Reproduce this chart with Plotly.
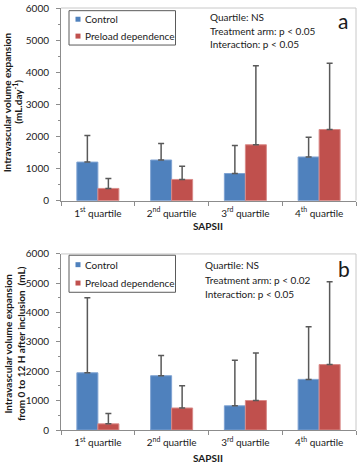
import plotly.graph_objects as go
from plotly.subplots import make_subplots

categories = ["1<sup>st</sup> quartile", "2<sup>nd</sup> quartile",
              "3<sup>rd</sup> quartile", "4<sup>th</sup> quartile"]

# Panel a: daily volume expansion (mL/day), mean and SD (upper whisker)
a_control_mean = [1200, 1265, 845, 1360]
a_control_sd = [830, 515, 875, 615]
a_preload_mean = [380, 660, 1740, 2215]
a_preload_sd = [310, 410, 2465, 2065]

# Panel b: volume expansion from 0 to 12 H (mL)
b_control_mean = [1950, 1850, 825, 1725]
b_control_sd = [2560, 685, 1550, 1795]
b_preload_mean = [210, 750, 1005, 2230]
b_preload_sd = [355, 760, 1615, 2820]

series_names = ["Control", "Preload dependence"]
y_ticks = [0, 1000, 2000, 3000, 4000, 5000, 6000]

BLUE = "#4F81BD"
RED = "#C0504D"
BLUE_EDGE = "#7FA3D3"
RED_EDGE = "#D98A88"
AXIS = "#8C8C8C"
BORDER = "#C8C8C8"
ERR = "#595959"
FONT = "Lato"
TXT = "#1a1a1a"
FS = 10

W, H = 358, 466
ML, MR, MT, MB = 61, 2, 5, 36
PW = W - ML - MR
PH = H - MT - MB


def px_x(px):
    return (px - ML) / PW


def px_y(py):
    return (H - MB - py) / PH


top_dom = [px_y(199), 1.0]
bot_dom = [0.0, px_y(252.7)]

fig = make_subplots(rows=2, cols=1)


def add_bars(row, cmean, csd, pmean, psd):
    for name, mean, sd, col, edge in [
        (series_names[0], cmean, csd, BLUE, BLUE_EDGE),
        (series_names[1], pmean, psd, RED, RED_EDGE),
    ]:
        fig.add_trace(go.Bar(
            x=categories, y=mean, name=name, showlegend=False,
            marker=dict(color=col, line=dict(color=edge, width=1)),
            error_y=dict(type="data", array=sd, symmetric=False,
                         arrayminus=[0] * len(sd), color=ERR,
                         thickness=1.5, width=3),
        ), row=row, col=1)


add_bars(1, a_control_mean, a_control_sd, a_preload_mean, a_preload_sd)
add_bars(2, b_control_mean, b_control_sd, b_preload_mean, b_preload_sd)

xaxis_common = dict(
    type="category", range=[-0.5, 3.5], showline=True, linecolor=AXIS,
    linewidth=1, ticks="outside", tickson="boundaries", ticklen=4,
    tickcolor=AXIS, tickfont=dict(family=FONT, size=FS, color=TXT),
    showgrid=False, zeroline=False, ticklabelstandoff=3,
)
yaxis_common = dict(
    range=[0, 6000], tickvals=y_ticks, showline=True, linecolor=AXIS,
    linewidth=1, ticks="outside", ticklen=4, tickcolor=AXIS,
    tickfont=dict(family=FONT, size=FS, color=TXT), showgrid=False,
    zeroline=False, ticklabelstandoff=5,
    minor=dict(dtick=500, ticks="outside", ticklen=2, tickcolor=AXIS),
)

fig.update_layout(
    width=W, height=H, margin=dict(l=ML, r=MR, t=MT, b=MB),
    paper_bgcolor="white", plot_bgcolor="white",
    barmode="group", bargap=0.43, bargroupgap=0,
    xaxis=dict(domain=[0, 1], anchor="y", **xaxis_common),
    yaxis=dict(domain=top_dom, anchor="x", **yaxis_common),
    xaxis2=dict(domain=[0, 1], anchor="y2", **xaxis_common),
    yaxis2=dict(domain=bot_dom, anchor="x2", **yaxis_common),
    font=dict(family=FONT, size=FS, color=TXT),
)

shapes = []
annotations = []

# plot-area border (top & right)
for yd in (top_dom, bot_dom):
    shapes.append(dict(type="line", xref="paper", yref="paper",
                       x0=0, x1=1, y0=yd[1], y1=yd[1],
                       line=dict(color=BORDER, width=1), layer="below"))
    shapes.append(dict(type="line", xref="paper", yref="paper",
                       x0=1, x1=1, y0=yd[0], y1=yd[1],
                       line=dict(color=BORDER, width=1), layer="below"))


def legend_box(x0, y0, x1, y1, item_ys):
    shapes.append(dict(type="rect", xref="paper", yref="paper",
                       x0=px_x(x0), x1=px_x(x1), y0=px_y(y1), y1=px_y(y0),
                       line=dict(color="#5a5a5a", width=1),
                       fillcolor="white", layer="above"))
    for name, yy, col in zip(series_names, item_ys, [BLUE, RED]):
        shapes.append(dict(type="rect", xref="paper", yref="paper",
                           x0=px_x(75.5), x1=px_x(80.5),
                           y0=px_y(yy + 2.5), y1=px_y(yy - 2.5),
                           line=dict(width=0), fillcolor=col, layer="above"))
        annotations.append(dict(text=name, xref="paper", yref="paper",
                                x=px_x(82.5), y=px_y(yy), xanchor="left",
                                yanchor="middle", showarrow=False,
                                font=dict(family=FONT, size=FS, color=TXT)))


legend_box(69, 7.7, 175.5, 42.3, [16.3, 33.3])
legend_box(69, 254, 175.5, 291.3, [263.5, 282])


def stats_text(x, ys, lines):
    for yy, t in zip(ys, lines):
        annotations.append(dict(text=t, xref="paper", yref="paper",
                                x=px_x(x), y=px_y(yy), xanchor="left",
                                yanchor="middle", showarrow=False,
                                font=dict(family=FONT, size=FS, color=TXT)))


stats_text(207.5, [14.3, 27.7, 41.7],
           ["Quartile: NS", "Treatment arm: p < 0.05", "Interaction: p < 0.05"])
stats_text(202.5, [264.3, 278.6, 293.3],
           ["Quartile: NS", "Treatment arm: p < 0.02", "Interaction: p < 0.05"])

annotations.append(dict(text="a", xref="paper", yref="paper", x=px_x(343),
                        y=px_y(18), xanchor="center", yanchor="middle",
                        showarrow=False,
                        font=dict(family=FONT, size=21, color=TXT)))
annotations.append(dict(text="b", xref="paper", yref="paper", x=px_x(344),
                        y=px_y(267), xanchor="center", yanchor="middle",
                        showarrow=False,
                        font=dict(family=FONT, size=21, color=TXT)))

# y-axis titles
for t, x, y in [
    ("<b>Intravascular volume expansion</b>", 7, 100),
    ("<b>(mL.day<sup>-1</sup>)</b>", 17.5, 100),
    ("<b>Intravascular volume expansion</b>", 8, 343),
    ("<b>from 0 to 12 H after inclusion  (mL)</b>", 20.5, 343),
]:
    annotations.append(dict(text=t, xref="paper", yref="paper", x=px_x(x),
                            y=px_y(y), xanchor="center", yanchor="middle",
                            textangle=-90, showarrow=False,
                            font=dict(family=FONT, size=FS, color=TXT)))

# x-axis titles
for y in (225, 458.3):
    annotations.append(dict(text="<b>SAPSII</b>", xref="paper", yref="paper",
                            x=px_x(207.8), y=px_y(y), xanchor="center",
                            yanchor="middle", showarrow=False,
                            font=dict(family=FONT, size=FS, color=TXT)))

fig.update_layout(shapes=shapes, annotations=annotations)
fig.write_html(
    "out.html",
    config={"displayModeBar": False},
    post_script="document.body.style.margin='0';"
                "document.body.style.overflow='hidden';",
)
